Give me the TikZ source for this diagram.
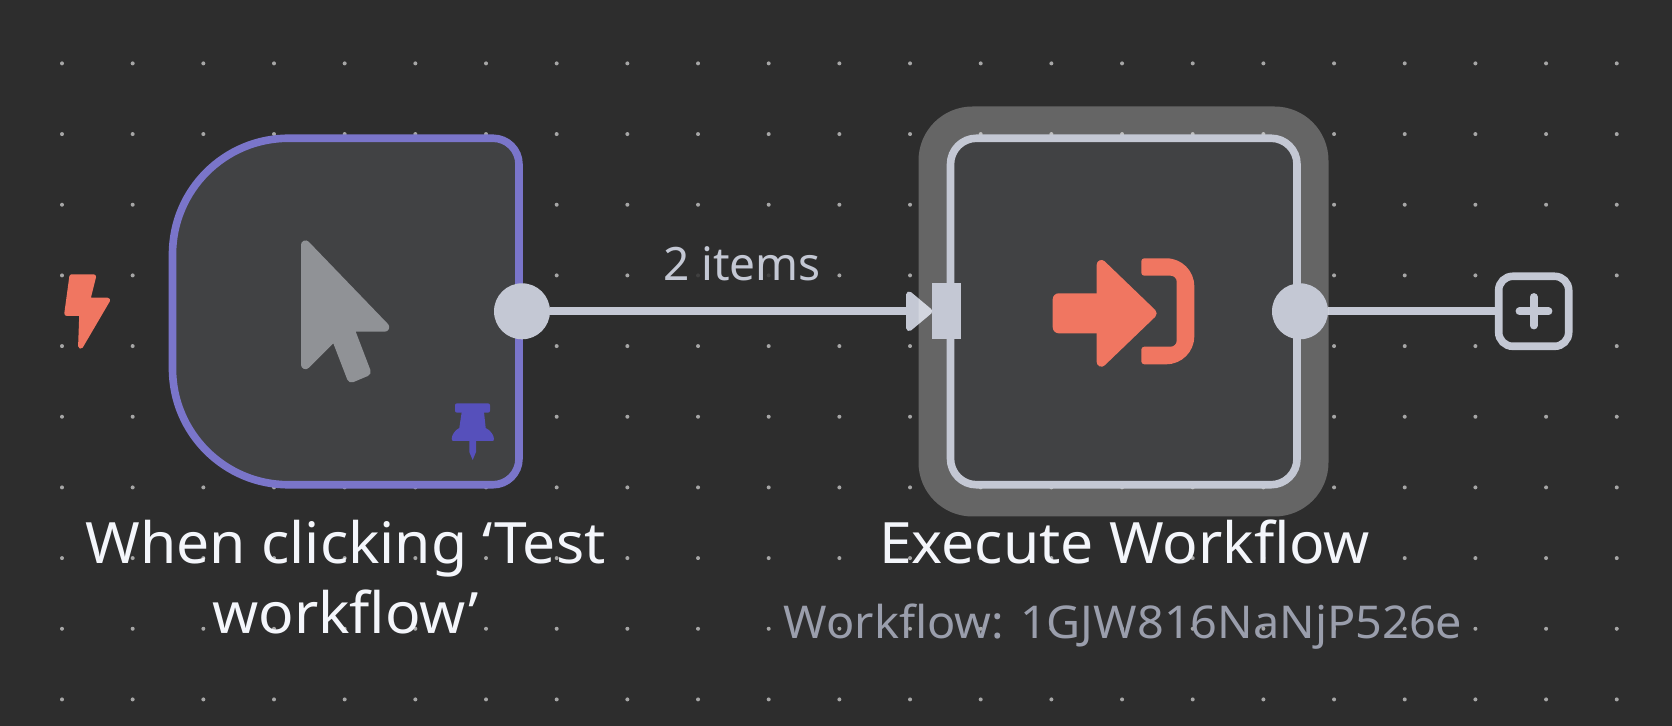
\documentclass[tikz,border=0pt]{standalone}
\usepackage{fontspec}
\setmainfont{Noto Sans}
\newfontfamily\titlefont[FakeStretch=1.032]{Noto Sans}
\newfontfamily\subfont[FakeStretch=1.036]{Noto Sans}
\usetikzlibrary{arrows.meta, positioning}
\definecolor{canvas}{HTML}{2D2D2D}
\definecolor{griddot}{HTML}{A6A6A6}
\definecolor{bodyfill}{HTML}{414244}
\definecolor{pinline}{HTML}{7A75CA}
\definecolor{pinfill}{HTML}{5650BB}
\definecolor{wire}{HTML}{C4C8D4}
\definecolor{coral}{HTML}{F07661}
\definecolor{pointer}{HTML}{909296}
\definecolor{titletext}{HTML}{F4F6FB}
\definecolor{subtext}{HTML}{9A9EAC}
\pgfdeclarelayer{grid}
\pgfdeclarelayer{wires}
\pgfsetlayers{grid,wires,main}
\tikzset{
  nodebody/.style={minimum size=173.25pt, inner sep=0pt, outer sep=0pt},
  wireline/.style={draw=wire, line width=3.8pt},
  handle/.style={circle, fill=wire, minimum size=28pt, inner sep=0pt, outer sep=0pt},
  title/.style={text=titletext, font=\titlefont\fontsize{28.5}{35}\selectfont, align=center, anchor=base},
  subtitle/.style={text=subtext, font=\subfont\fontsize{22.6}{26}\selectfont, anchor=base},
  iconshape/.style={line join=round, fill=#1, draw=#1}
}
\begin{document}
\begin{tikzpicture}[x=.5pt, y=-.5pt]
  \useasboundingbox (0,0) rectangle (1672,726);
  \begin{pgfonlayer}{grid}
    \fill[canvas] (0,0) rectangle (1672,726);
    \foreach \i in {0,...,22}
      \foreach \j in {0,...,9}
        \fill[griddot] ({62+70.67*\i},{63.4+70.67*\j}) circle[radius=1pt];
  \end{pgfonlayer}

  \node[nodebody] (trigger) at (345.75,311.5) {};
  \draw[pinline, fill=bodyfill, line width=3.8pt]
    (trigger.south) -- ([xshift=58pt]trigger.south west) arc[start angle=270, end angle=180, radius=58pt]
    -- ([yshift=-58pt]trigger.north west) arc[start angle=180, end angle=90, radius=58pt]
    -- ([xshift=-13pt]trigger.north east) arc[start angle=90, end angle=0, radius=13pt]
    -- ([yshift=13pt]trigger.south east) arc[start angle=0, end angle=-90, radius=13pt] -- cycle;

  \node[nodebody, rounded corners=27pt, fill=white, fill opacity=.267, minimum size=205pt] (halo) at (1123.5,311.5) {};
  \node[nodebody, rounded corners=13pt, draw=wire, fill=bodyfill, line width=3.8pt] (execute) at (1123.75,311.5) {};

  \node[handle] (triggerout) at (522,311.3) {};
  \node[handle] (executeout) at (1300,311.3) {};
  \node[fill=wire, minimum width=14.2pt, minimum height=28pt, inner sep=0pt, outer sep=0pt] (executein) at (946.5,311.3) {};
  \node[draw=wire, line width=3.8pt, rounded corners=7pt, minimum size=35pt, inner sep=0pt, outer sep=0pt] (addbox) at (1533.7,311.3) {};
  \draw[wire, line width=3.9pt, line cap=round] (1519.5,311.3) -- (1548.5,311.3) (1533.7,297) -- (1533.7,325.5);

  \begin{pgfonlayer}{wires}
    \draw[wireline, -{Triangle[length=14pt, width=22.5pt, line width=3pt, round]}] (triggerout) -- (executein.west);
    \draw[wireline] (executeout) -- (addbox);
  \end{pgfonlayer}

  \node[text=wire, font=\fontsize{23}{26}\selectfont, anchor=base, fill=canvas, fill opacity=.85, text opacity=1, inner sep=0pt] (edgelabel) at (742,281) {2 items};

  % icons
  \filldraw[iconshape=coral, line width=2.5pt] (71.8,276.8) -- (93.6,276.8) -- (87.7,300.2) -- (107.6,300.2) -- (80.6,346.3) -- (81.8,313.5) -- (66.8,313.5) -- cycle;
  \filldraw[iconshape=pointer, line width=4.5pt] (305.5,244.9) -- (384.8,327.2) -- (349.2,327.2) -- (366.25,371.8) -- (351.5,378) -- (335,335.2) -- (305.5,364.7) -- cycle;
  \fill[pinfill, rounded corners=1pt] (455,403.3) -- (490,403.3) -- (490,412.7) -- (455,412.7) -- cycle;
  \fill[pinfill] (461.7,412) -- (484,412) -- (485.7,428) .. controls (490,430) and (494,435) .. (494,439)
    .. controls (494,441) and (493,441) .. (492,441) -- (476,441) -- (476,452) -- (472.7,460) -- (469.3,452) -- (469.3,441) -- (454,441)
    .. controls (453,441) and (451.7,441) .. (451.7,439) .. controls (451.7,435) and (455,430) .. (459.3,428) -- cycle;
  \fill[coral, rounded corners=3pt] (1052.7,293.3) -- (1110,293.3) -- (1110,333.3) -- (1052.7,333.3) -- cycle;
  \filldraw[iconshape=coral, line width=4.7pt] (1101.4,264.7) -- (1152,313.4) -- (1101.4,362) -- cycle;
  \fill[coral, rounded corners=1.5pt] (1141.3,258.3) [rounded corners=14pt] -- (1194.3,258.3) -- (1194.3,364.3)
    [rounded corners=1.5pt] -- (1141.3,364.3) -- (1141.3,346.7) [rounded corners=3pt] -- (1176.7,346.7) -- (1176.7,275.7)
    [rounded corners=1.5pt] -- (1141.3,275.7) -- cycle;

  \node[title] (triggername) at (345.5,634) {When clicking ‘Test\\workflow’};
  \node[title] (executename) at (1124.5,564) {Execute Workflow};
  \node[subtitle] (executeid) at (1123,638.3) {Workflow: 1GJW816NaNjP526e};
\end{tikzpicture}
\end{document}
